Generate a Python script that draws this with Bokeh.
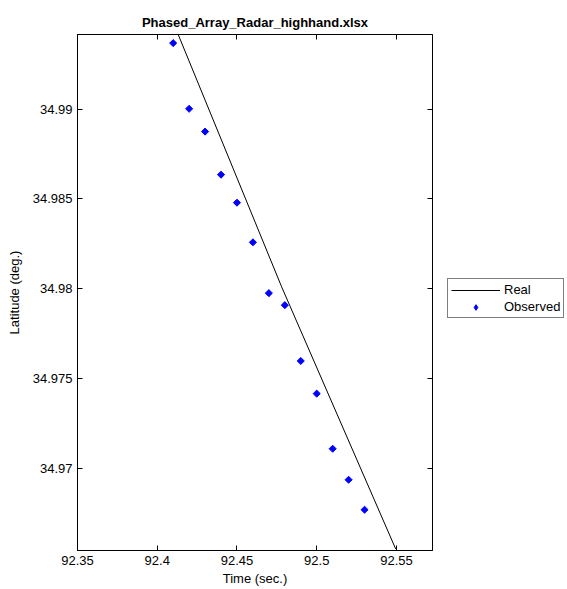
import math
from bokeh.plotting import figure
from bokeh.layouts import row
from bokeh.models import (Range1d, FixedTicker, LinearAxis, Legend, LegendItem,
                          CustomJSTickFormatter, CustomLabelingPolicy)
from bokeh.embed import file_html
from bokeh.resources import INLINE

# Observed radar samples
obs_time = [92.41, 92.42, 92.43, 92.44, 92.45, 92.46, 92.47, 92.48, 92.49, 92.50, 92.51, 92.52, 92.53]
obs_lat = [34.99368, 34.99002, 34.98875, 34.98635, 34.98479, 34.98258, 34.97975,
           34.97908, 34.97597, 34.97415, 34.97108, 34.96935, 34.96768]

# Real trajectory
real_time = [92.4125, 92.478, 92.5495]
real_lat = [34.9943, 34.9801, 34.9655]

x_ticks = [92.35, 92.40, 92.45, 92.50, 92.55]
y_ticks = [34.97, 34.975, 34.98, 34.985, 34.99]

series_names = ["Real", "Observed"]

FONT = "Liberation Sans"
FS = "13px"
BLUE = "#0000FF"

p = figure(width=440, height=589, output_backend="svg", toolbar_location=None,
           x_range=Range1d(92.35, 92.5726), y_range=Range1d(34.96541, 34.99416),
           min_border_left=77, min_border_right=8, min_border_top=34, min_border_bottom=39,
           title="Phased_Array_Radar_highhand.xlsx")
p.background_fill_color = "white"
p.border_fill_color = "white"
p.outline_line_color = "black"
p.grid.visible = False

p.title.align = "center"
p.title.text_font = FONT
p.title.text_font_size = "13px"
p.title.text_font_style = "bold"
p.title.text_color = "black"
p.title.offset = 0

fmt = CustomJSTickFormatter(code="return String(parseFloat(tick.toFixed(4)));")

for ax, ticks in ((p.xaxis[0], x_ticks), (p.yaxis[0], y_ticks)):
    ax.ticker = FixedTicker(ticks=ticks)
    ax.formatter = fmt
    ax.major_tick_in = 5
    ax.major_tick_out = 0
    ax.minor_tick_line_color = None
    ax.axis_line_color = "black"
    ax.major_tick_line_color = "black"
    ax.major_label_text_font = FONT
    ax.major_label_text_font_size = FS
    ax.major_label_text_color = "black"
    ax.axis_label_text_font = FONT
    ax.axis_label_text_font_size = FS
    ax.axis_label_text_font_style = "normal"
    ax.axis_label_text_color = "black"
    ax.major_label_standoff = 5

p.xaxis[0].axis_label = "Time (sec.)"
p.yaxis[0].axis_label = "Latitude (deg.)"
p.xaxis[0].axis_label_standoff = 3
p.yaxis[0].axis_label_standoff = 8

blank = CustomJSTickFormatter(code="return '';")
top = LinearAxis(ticker=FixedTicker(ticks=x_ticks), major_tick_in=5, major_tick_out=0,
                 minor_tick_line_color=None, formatter=blank,
                 major_label_policy=CustomLabelingPolicy(code="return new Set()"),
                 major_label_standoff=0,
                 axis_line_color="black", major_tick_line_color="black")
right = LinearAxis(ticker=FixedTicker(ticks=y_ticks), major_tick_in=5, major_tick_out=0,
                   minor_tick_line_color=None, formatter=blank,
                   major_label_policy=CustomLabelingPolicy(code="return new Set()"),
                   major_label_standoff=0,
                   axis_line_color="black", major_tick_line_color="black")
p.add_layout(top, "above")
p.add_layout(right, "right")

p.line(real_time, real_lat, line_color="black", line_width=1)
p.scatter(obs_time, obs_lat, marker="square", angle=math.pi / 4, size=5,
          fill_color=BLUE, line_color=BLUE)

# Legend panel to the right of the axes (its series lie outside its view)
q = figure(width=127, height=589, output_backend="svg", toolbar_location=None,
           x_range=Range1d(0, 1), y_range=Range1d(0, 1),
           x_axis_location=None, y_axis_location=None,
           min_border=0, min_border_left=0, min_border_right=0,
           min_border_top=0, min_border_bottom=0)
q.outline_line_color = None
q.grid.visible = False
q.background_fill_color = "white"
q.border_fill_color = "white"
lr = q.line(real_time, real_lat, line_color="black", line_width=1)
lo = q.scatter(obs_time, obs_lat, marker="diamond", size=6,
               fill_color=BLUE, line_color=BLUE)

legend = Legend(items=[LegendItem(label=series_names[0], renderers=[lr]),
                       LegendItem(label=series_names[1], renderers=[lo])],
                location=(7, 232), orientation="vertical",
                border_line_color="black", border_line_width=1,
                background_fill_color="white", background_fill_alpha=1,
                padding=3, spacing=2, margin=0,
                glyph_width=49, glyph_height=14, label_height=14,
                label_standoff=4, label_text_font=FONT, label_text_font_size=FS,
                label_text_color="black")
q.add_layout(legend, "center")

layout = row(p, q)
open("out.html", "w").write(file_html(layout, INLINE))
